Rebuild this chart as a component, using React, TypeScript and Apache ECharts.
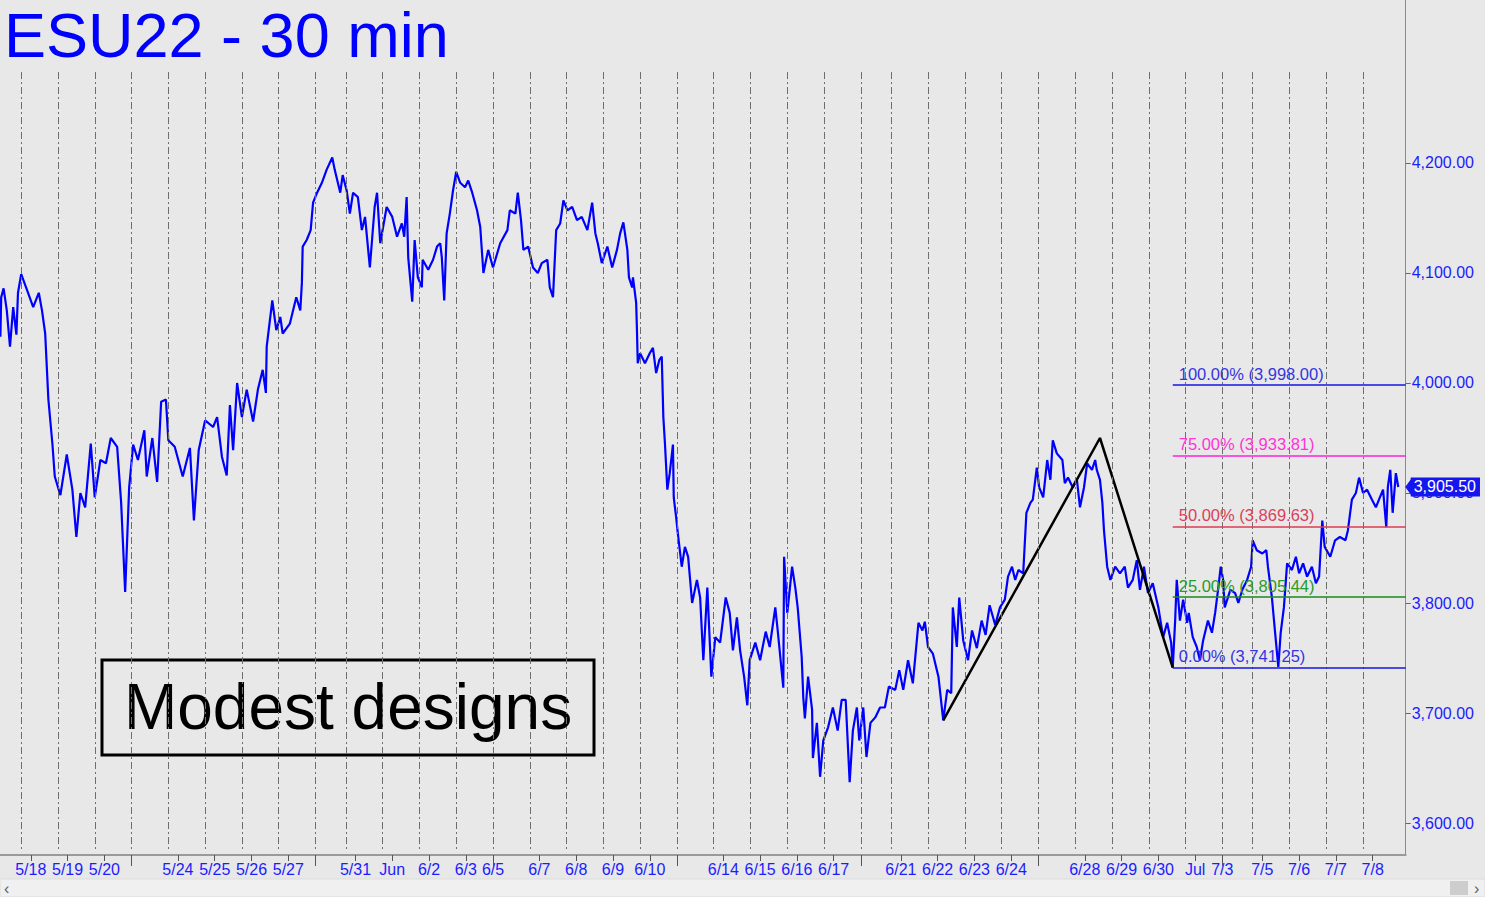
import React, { useEffect, useRef } from "react";
import * as echarts from "echarts";

// ---- calendar (30-min bars; bar 0 = open of the 5/18 session) ----
const sessionNames = ["5/18","5/19","5/20","5/23","5/24","5/25","5/26","5/27","5/30","5/31","6/1","6/2","6/3","6/6","6/7","6/8","6/9","6/10","6/13","6/14","6/15","6/16","6/17","6/20","6/21","6/22","6/23","6/24","6/27","6/28","6/29","6/30","7/1","7/4","7/5","7/6","7/7","7/8"];
const sessionBars = [46,46,46,46,46,46,46,46,38,46,46,46,46,46,46,46,46,46,46,46,46,46,46,38,46,46,46,46,46,46,46,46,46,38,46,46,46,46];

const tickLabels = ["5/18","5/19","5/20","5/24","5/25","5/26","5/27","5/31","Jun","6/2","6/3","6/5","6/7","6/8","6/9","6/10","6/14","6/15","6/16","6/17","6/21","6/22","6/23","6/24","6/28","6/29","6/30","Jul","7/3","7/5","7/6","7/7","7/8"];
const tickBars = [12,58,104,196,242,288,334,418,464,510,556,590,648,694,740,786,878,924,970,1016,1100,1146,1192,1238,1330,1376,1422,1468,1502,1552,1598,1644,1690];
const weekBreakBars = [138,368,590,820,1050,1272,1502];

const priceTicks = [3600,3700,3800,3900,4000,4100,4200];
const lastPrice = 3905.5;

// ---- price path [bar, price] ----
const pricePath: [number, number][] = [
  [-26,4042],[-25,4078],[-22,4086],[-18,4066],[-14,4033],[-10,4069],[-6,4044],[-4,4082],[0,4099],[7,4085],[15,4069],[22,4082],[26,4066],[30,4045],[34,3985],[39,3945],[42,3915],[49,3898],[57,3935],[64,3903],[69,3860],[74,3900],[80,3887],[87,3945],[92,3896],[99,3930],[106,3927],[112,3950],[120,3942],[125,3891],[130,3810],[135,3905],[140,3944],[146,3930],[154,3957],[157,3915],[164,3950],[170,3910],[175,3983],[181,3985],[184,3948],[192,3942],[202,3915],[211,3941],[216,3875],[222,3939],[230,3966],[240,3960],[245,3969],[251,3933],[257,3916],[261,3980],[265,3939],[270,4000],[276,3969],[282,3994],[290,3965],[296,3994],[302,4012],[306,3991],[307,4033],[314,4075],[319,4048],[324,4060],[327,4045],[336,4054],[344,4078],
  [349,4066],[351,4091],[352,4124],[357,4130],[362,4139],[365,4164],[370,4173],[376,4182],[382,4194],[389,4205],[392,4194],[399,4173],[402,4189],[407,4175],[411,4154],[415,4173],[421,4169],[426,4139],[430,4151],[436,4105],[442,4160],[445,4173],[449,4127],[457,4160],[464,4151],[470,4133],[476,4145],[479,4133],[482,4169],[484,4114],[489,4074],[492,4130],[496,4096],[501,4087],[502,4112],[509,4103],[515,4112],[520,4124],[524,4127],[526,4114],[529,4075],[532,4136],[536,4154],[540,4175],[544,4192],[549,4182],[555,4178],[559,4184],[564,4173],[570,4157],[574,4142],[578,4100],[584,4121],[590,4105],[599,4127],[608,4139],[611,4157],[618,4154],[621,4173],[625,4148],[628,4121],[634,4124],[640,4105],[646,4100],[651,4109],[658,4112],[661,4087],[665,4078],[669,4139],[674,4145],[678,4166],[683,4157],[689,4160],[695,4148],[701,4151],[708,4139],[714,4164],[718,4136],[721,4127],[726,4109],[733,4124],[739,4105],[745,4121],[749,4136],[753,4146],[758,4121],[760,4096],[764,4087],[765,4096],[769,4073],
  [770,4048],[771,4018],[774,4027],[780,4018],[786,4027],[790,4032],[794,4009],[798,4021],[801,4024],[803,3969],[805,3945],[808,3903],[811,3918],[815,3944],[816,3896],[819,3878],[821,3864],[826,3833],[830,3851],[834,3842],[839,3800],[845,3821],[849,3805],[853,3748],[858,3814],[863,3733],[868,3769],[874,3764],[881,3805],[886,3791],[890,3757],[895,3787],[899,3757],[904,3733],[908,3707],[911,3748],[918,3764],[924,3748],[931,3774],[936,3760],[943,3796],[946,3775],[953,3723],[954,3842],[958,3791],[964,3833],[968,3814],[971,3796],[976,3751],[978,3714],[980,3695],[984,3733],[989,3703],[990,3659],[995,3691],[999,3642],[1003,3675],[1009,3687],[1015,3705],[1021,3684],[1026,3712],[1031,3712],[1036,3637],[1040,3684],[1045,3705],[1048,3675],[1053,3705],[1057,3660],[1062,3691],[1068,3696],[1074,3705],[1080,3705],[1085,3724],[1093,3721],[1098,3739],[1103,3721],[1109,3748],[1115,3727],[1122,3782],[1127,3775],[1130,3783],[1134,3760],[1140,3754],[1147,3733],[1153,3693.25],[1158,3721],[1163,3718],[1165,3796],[1170,3760],[1173,3805],[1178,3766],[1184,3748],[1189,3775],[1195,3759],[1201,3784],[1206,3771],[1211,3798],[1218,3780],[1224,3796],
  [1230,3803],[1234,3824],[1239,3833],[1243,3821],[1247,3830],[1253,3827],[1257,3882],[1262,3891],[1265,3894],[1270,3923],[1273,3905],[1278,3896],[1283,3930],[1287,3912],[1290,3948],[1295,3936],[1302,3930],[1305,3909],[1309,3914],[1315,3905],[1320,3913],[1324,3887],[1329,3905],[1333,3927],[1339,3921],[1343,3930],[1345,3921],[1349,3912],[1352,3891],[1354,3866],[1358,3833],[1362,3821],[1368,3833],[1374,3827],[1380,3833],[1384,3814],[1390,3821],[1395,3839],[1399,3812],[1404,3833],[1409,3809],[1415,3818],[1422,3796],[1428,3769],[1433,3782],[1438,3764],[1440,3741.25],[1443,3784],[1445,3821],[1449,3784],[1453,3803],[1458,3782],[1460,3791],[1465,3769],[1470,3760],[1474,3748],[1478,3766],[1484,3784],[1489,3773],[1493,3791],[1497,3814],[1500,3833],[1503,3821],[1505,3796],[1512,3812],[1518,3809],[1522,3800],[1527,3812],[1533,3821],[1538,3833],[1540,3857],[1545,3848],[1552,3845],[1557,3848],[1559,3833],[1564,3805],[1568,3773],[1572,3742],[1575,3773],[1579,3796],[1583,3836],[1589,3830],[1594,3842],[1598,3827],[1603,3836],[1608,3824],[1614,3833],[1619,3818],[1623,3824],[1627,3875],[1630,3851],[1637,3842],[1643,3857],[1649,3860],[1656,3857],[1659,3866],[1664,3894],[1669,3900],[1673,3914],[1678,3900],[1683,3903],[1689,3894],[1694,3887],[1699,3896],[1703,3903],[1707,3869],[1709,3905.5],[1712,3921],[1715,3882],[1719,3918],[1722,3905.5]
];

// ---- ABC swing and projection levels ----
const swingPoints: [number, number][] = [[1153, 3693.25], [1349, 3950.0], [1440, 3741.25]];
const fibLabels = ["100.00%", "75.00%", "50.00%", "25.00%", "0.00%"];
const fibValues = [3998.0, 3933.81, 3869.63, 3805.44, 3741.25];
const fibColors = ["#1414e6", "#ff1fe0", "#dc3c55", "#1a8c1a", "#1414e6"];
const fibTextColors = ["#3535e0", "#ff33d6", "#d9405c", "#2a9a2a", "#3535e0"];

const X_MIN = -26.5;
const X_MAX = 1731.3;
const Y_MIN = 3570.91;
const Y_MAX = 4348.18;

const fmtPrice = (v: number) =>
  v.toLocaleString("en-US", { minimumFractionDigits: 2, maximumFractionDigits: 2 });

function sessionStarts(): number[] {
  const out: number[] = [];
  let b = 0;
  for (let i = 0; i < sessionBars.length; i++) {
    out.push(b);
    b += sessionBars[i];
  }
  return out;
}

export default function App() {
  const ref = useRef<HTMLDivElement>(null);
  useEffect(() => {
    if (!ref.current) return;
    const chart = echarts.init(ref.current, undefined, { renderer: "svg" });
    const starts = sessionStarts();
    const gridTopVal = 4282.7;
    const gridBotVal = 3573.6;
    const font = "'Liberation Sans', Arial, sans-serif";

    const option: any = {
      animation: false,
      backgroundColor: "#e8e8e8",
      title: {
        text: "ESU22 - 30 min",
        left: -1,
        top: -2,
        textStyle: { color: "#0000ff", fontSize: 63, fontWeight: "normal", fontFamily: font },
      },
      grid: { left: 0, top: 0, right: 79.3, bottom: 42, containLabel: false },
      xAxis: [
        {
          type: "value",
          min: X_MIN,
          max: X_MAX,
          position: "bottom",
          axisLine: { show: true, onZero: false, lineStyle: { color: "#9a9a9a", width: 2 } },
          axisTick: { show: true, customValues: tickBars, length: 6, lineStyle: { color: "#555" } },
          axisLabel: {
            customValues: tickBars,
            margin: 6,
            color: "#1c1cff",
            fontSize: 16,
            fontFamily: font,
            formatter: (v: number) => {
              const i = tickBars.findIndex((t) => Math.abs(t - v) < 0.01);
              return i >= 0 ? tickLabels[i] : "";
            },
          },
          splitLine: { show: false },
        },
        {
          type: "value",
          min: X_MIN,
          max: X_MAX,
          position: "bottom",
          axisLine: { show: false, onZero: false },
          axisTick: { show: true, customValues: weekBreakBars, length: 11, lineStyle: { color: "#555" } },
          axisLabel: { show: false },
          splitLine: { show: false },
        },
      ],
      yAxis: [
        {
          type: "value",
          min: Y_MIN,
          max: Y_MAX,
          position: "right",
          axisLine: { show: true, onZero: false, lineStyle: { color: "#8a8a8a", width: 1 } },
          axisTick: { show: true, customValues: priceTicks, length: 5, lineStyle: { color: "#666" } },
          axisLabel: {
            customValues: priceTicks,
            margin: 6,
            color: "#1c1cff",
            fontSize: 16,
            fontFamily: font,
            formatter: (v: number) => fmtPrice(v),
          },
          splitLine: { show: false },
        },
        {
          type: "value",
          min: Y_MIN,
          max: Y_MAX,
          position: "right",
          axisLine: { show: false, onZero: false },
          axisTick: { show: false },
          axisLabel: {
            customValues: [lastPrice],
            margin: 5,
            color: "#ffffff",
            fontSize: 16,
            fontFamily: font,
            backgroundColor: "#1515f0",
            padding: [2, 4, 1, 3],
            formatter: (v: number) => fmtPrice(v),
          },
          splitLine: { show: false },
        },
      ],
      series: [
        {
          name: "sessions",
          type: "line",
          data: [],
          z: 0,
          silent: true,
          markLine: {
            silent: true,
            symbol: "none",
            animation: false,
            label: { show: false },
            lineStyle: { color: "#6e6e6e", width: 1, type: [7, 3, 2, 3] },
            data: starts.map((b) => [{ coord: [b, gridTopVal] }, { coord: [b, gridBotVal] }]),
          },
        },
        {
          name: "levels",
          type: "line",
          data: [],
          z: 1,
          silent: true,
          markLine: {
            silent: true,
            symbol: "none",
            animation: false,
            data: fibValues.map((v, i) => [
              {
                coord: [swingPoints[2][0], v],
                lineStyle: { color: fibColors[i], width: 1.5, type: "solid" },
                label: {
                  show: true,
                  position: "insideStartTop",
                  distance: [6, 3],
                  color: fibTextColors[i],
                  fontSize: 16.5,
                  fontFamily: font,
                  formatter: () => `${fibLabels[i]} (${fmtPrice(v)})`,
                },
              },
              { coord: [X_MAX, v] },
            ]),
          },
        },
        {
          name: "ESU22",
          type: "line",
          data: pricePath,
          z: 3,
          showSymbol: false,
          symbol: "none",
          lineStyle: { color: "#0000ff", width: 2.2 },
          markPoint: {
            silent: true,
            symbol: "triangle",
            symbolSize: [19, 7],
            symbolRotate: 90,
            symbolOffset: [3, 0],
            itemStyle: { color: "#1515f0" },
            label: { show: false },
            data: [{ coord: [X_MAX, lastPrice] }],
          },
        },
        {
          name: "swing",
          type: "line",
          data: swingPoints,
          z: 4,
          showSymbol: false,
          symbol: "none",
          lineStyle: { color: "#000000", width: 2.5 },
        },
      ],
      graphic: [
        {
          type: "group",
          x: 102,
          y: 660,
          children: [
            {
              type: "rect",
              shape: { x: 0, y: 0, width: 492, height: 95 },
              style: { fill: "none", stroke: "#000", lineWidth: 3 },
            },
            {
              type: "text",
              x: 246,
              y: 47,
              style: {
                text: "Modest designs",
                fill: "#000",
                font: `64px ${font}`,
                textAlign: "center",
                textVerticalAlign: "middle",
              },
            },
          ],
        },
        {
          type: "rect",
          x: 0,
          y: 879,
          shape: { width: 1485, height: 18 },
          style: { fill: "#f0f0f0", stroke: "#dddddd", lineWidth: 1 },
          silent: true,
        },
        {
          type: "text",
          x: 4,
          y: 880,
          style: { text: "‹", fill: "#606060", font: `16px ${font}` },
          silent: true,
        },
        {
          type: "rect",
          x: 1450,
          y: 881,
          shape: { width: 18, height: 14 },
          style: { fill: "#cdcdcd" },
          silent: true,
        },
        {
          type: "text",
          x: 1474,
          y: 880,
          style: { text: "›", fill: "#606060", font: `16px ${font}` },
          silent: true,
        },
      ],
    };
    chart.setOption(option);
    return () => chart.dispose();
  }, []);
  return (
    <div
      ref={ref}
      style={{ position: "absolute", left: 0, top: 0, width: 1485, height: 897 }}
    />
  );
}
